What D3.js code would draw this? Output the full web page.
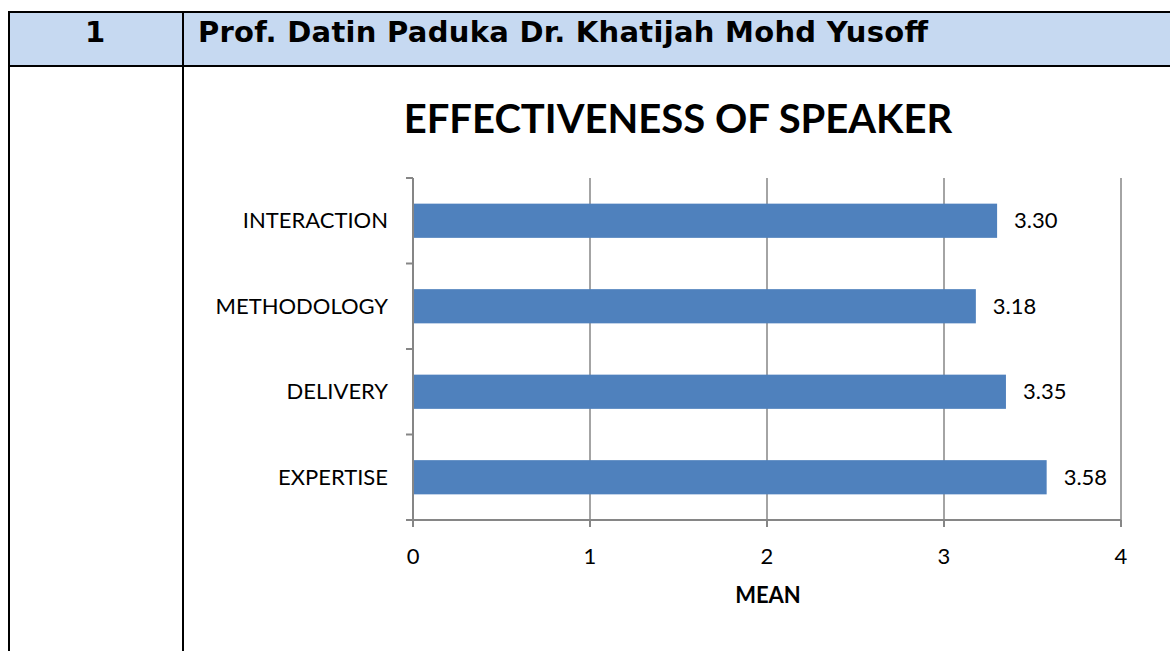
<!DOCTYPE html>
<html>
<head>
<meta charset="utf-8">
<script src="https://cdn.jsdelivr.net/npm/d3@7"></script>
<style>
  body { margin: 0; background: #fff; }
  svg { display: block; }
</style>
</head>
<body>
<svg id="chart" width="1170" height="651"></svg>
<script>
// data
var categories = ["INTERACTION", "METHODOLOGY", "DELIVERY", "EXPERTISE"];
var means = [3.30, 3.18, 3.35, 3.58];
var xTicks = [0, 1, 2, 3, 4];
var rowNumber = "1";
var speakerName = "Prof. Datin Paduka Dr. Khatijah Mohd Yusoff";
var chartTitle = "EFFECTIVENESS OF SPEAKER";
var axisTitle = "MEAN";

var svg = d3.select("#chart");
var chartFont = "Lato, 'Open Sans', sans-serif";

// table frame
svg.append("rect")
    .attr("x", 8).attr("y", 12)
    .attr("width", 1170 - 8).attr("height", 54)
    .attr("fill", "#c6d9f1");

var frame = svg.append("g").attr("stroke", "#000").attr("stroke-width", 2);
frame.append("line").attr("x1", 8).attr("x2", 1170).attr("y1", 12).attr("y2", 12);
frame.append("line").attr("x1", 8).attr("x2", 1170).attr("y1", 66).attr("y2", 66);
frame.append("line").attr("x1", 9).attr("x2", 9).attr("y1", 11).attr("y2", 651);
frame.append("line").attr("x1", 183).attr("x2", 183).attr("y1", 11).attr("y2", 651);

svg.append("text")
    .attr("x", 95).attr("y", 42)
    .attr("text-anchor", "middle")
    .style("font-family", "'DejaVu Sans', Verdana, sans-serif")
    .style("font-weight", "bold")
    .style("font-size", "29px")
    .text(rowNumber);

svg.append("text")
    .attr("x", 198).attr("y", 42)
    .attr("textLength", 730)
    .attr("lengthAdjust", "spacing")
    .style("font-family", "'DejaVu Sans', Verdana, sans-serif")
    .style("font-weight", "bold")
    .style("font-size", "29px")
    .text(speakerName);

// chart
var margin = {left: 413, top: 178},
    width = 1121 - 413,
    height = 520 - 178;

var g = svg.append("g")
    .attr("transform", "translate(" + margin.left + "," + margin.top + ")");

var x = d3.scaleLinear().domain([0, 4]).range([0, width]);
var y = d3.scaleBand().domain(categories).range([0, height]).paddingInner(0.6).paddingOuter(0.3);

svg.append("text")
    .attr("x", 678).attr("y", 133)
    .attr("text-anchor", "middle")
    .style("font-family", chartFont)
    .style("font-weight", "bold")
    .style("font-size", "40px")
    .text(chartTitle);

// gridlines
g.selectAll(".grid")
    .data(xTicks.slice(1))
    .enter().append("line")
    .attr("x1", d => x(d)).attr("x2", d => x(d))
    .attr("y1", 0).attr("y2", height)
    .attr("stroke", "#868686").attr("stroke-width", 1.5);

// bars
g.selectAll(".bar")
    .data(categories)
    .enter().append("rect")
    .attr("x", 0)
    .attr("y", d => y(d))
    .attr("width", (d, i) => x(means[i]))
    .attr("height", y.bandwidth())
    .attr("fill", "#4f81bd");

// value labels
g.selectAll(".val")
    .data(categories)
    .enter().append("text")
    .attr("x", (d, i) => x(means[i]) + 17)
    .attr("y", d => y(d) + y.bandwidth() / 2)
    .attr("dy", "0.35em")
    .style("font-family", chartFont)
    .style("font-size", "22px")
    .text((d, i) => means[i].toFixed(2));

// y axis
var step = height / categories.length;
var yAxis = g.append("g");
yAxis.append("line")
    .attr("x1", 0).attr("x2", 0).attr("y1", 0).attr("y2", height + 7)
    .attr("stroke", "#868686").attr("stroke-width", 2);
yAxis.selectAll(".ytick")
    .data(d3.range(categories.length))
    .enter().append("line")
    .attr("x1", -7).attr("x2", 0)
    .attr("y1", d => d * step).attr("y2", d => d * step)
    .attr("stroke", "#868686").attr("stroke-width", 2);
yAxis.selectAll(".ylab")
    .data(categories)
    .enter().append("text")
    .attr("x", -25)
    .attr("y", d => y(d) + y.bandwidth() / 2)
    .attr("dy", "0.35em")
    .attr("text-anchor", "end")
    .style("font-family", chartFont)
    .style("font-size", "22px")
    .text(d => d);

// x axis
var xAxis = g.append("g").attr("transform", "translate(0," + height + ")");
xAxis.append("line")
    .attr("x1", -7).attr("x2", width).attr("y1", 0).attr("y2", 0)
    .attr("stroke", "#868686").attr("stroke-width", 2);
xAxis.selectAll(".xtick")
    .data(xTicks)
    .enter().append("line")
    .attr("x1", d => x(d)).attr("x2", d => x(d))
    .attr("y1", 0).attr("y2", 7)
    .attr("stroke", "#868686").attr("stroke-width", 2);
xAxis.selectAll(".xlab")
    .data(xTicks)
    .enter().append("text")
    .attr("x", d => x(d))
    .attr("y", 44)
    .attr("text-anchor", "middle")
    .style("font-family", chartFont)
    .style("font-size", "22px")
    .text(d => d);

svg.append("text")
    .attr("x", 768).attr("y", 603)
    .attr("text-anchor", "middle")
    .style("font-family", chartFont)
    .style("font-weight", "bold")
    .style("font-size", "22px")
    .text(axisTitle);
</script>
</body>
</html>
